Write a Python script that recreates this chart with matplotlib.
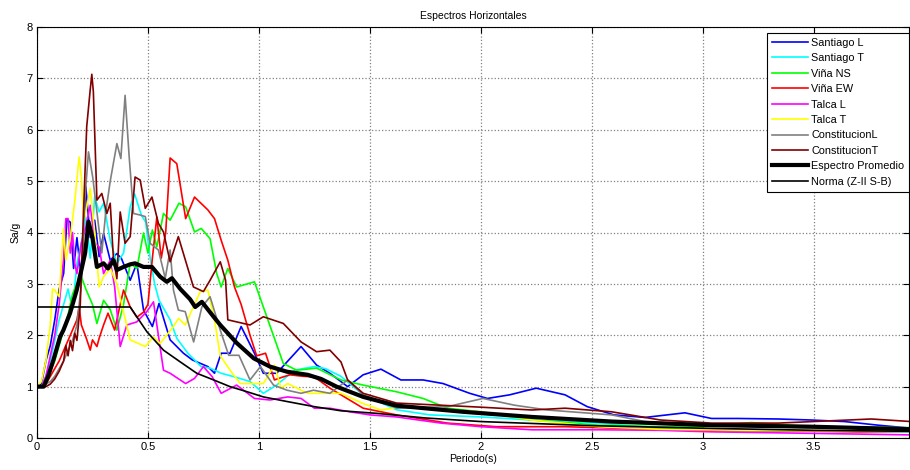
import matplotlib
matplotlib.use("Agg")
import matplotlib.pyplot as plt

plt.rcParams['font.family'] = ['Liberation Sans', 'DejaVu Sans']

# Santiago L
t_stgo_l = [0, 0.02, 0.04, 0.06, 0.08, 0.1, 0.12, 0.135, 0.15, 0.165, 0.18, 0.2, 0.22, 0.24, 0.26, 0.28,
            0.3, 0.33, 0.36, 0.38, 0.42, 0.45, 0.48, 0.52, 0.55, 0.6, 0.66, 0.7, 0.77, 0.8, 0.83, 0.87,
            0.92, 0.98, 1.02, 1.08, 1.19, 1.26, 1.32, 1.4, 1.47, 1.55, 1.64, 1.74, 1.83, 1.95, 2.03,
            2.13, 2.25, 2.38, 2.48, 2.6, 2.74, 2.92, 3.04, 3.16, 3.34, 3.49, 3.64, 3.79, 3.94]
sa_stgo_l = [1.0, 1.05, 1.5, 1.8, 2.3, 2.9, 3.2, 4.25, 4.2, 3.3, 3.9, 3.1, 4.89, 3.9, 4.24, 3.53,
             3.98, 3.46, 3.59, 3.5, 3.07, 3.4, 2.49, 2.17, 2.62, 1.91, 1.65, 1.52, 1.39, 1.26, 1.65, 1.65,
             2.17, 1.65, 1.26, 1.26, 1.78, 1.42, 1.26, 1.0, 1.23, 1.34, 1.13, 1.13, 1.06, 0.87, 0.77,
             0.84, 0.97, 0.84, 0.61, 0.45, 0.40, 0.49, 0.38, 0.38, 0.37, 0.35, 0.32, 0.25, 0.19]

# Santiago T
t_stgo_t = [0, 0.02, 0.04, 0.06, 0.08, 0.1, 0.12, 0.14, 0.16, 0.18, 0.2, 0.22, 0.24, 0.26, 0.28, 0.3,
            0.33, 0.36, 0.39, 0.42, 0.44, 0.47, 0.49, 0.51, 0.53, 0.55, 0.6, 0.63, 0.68, 0.74, 0.78,
            0.83, 0.89, 0.96, 1.02, 1.08, 1.16, 1.25, 1.3, 1.37, 1.47, 1.62, 1.77, 2.0, 2.23, 2.53,
            2.8, 3.0, 3.2, 3.5, 3.94]
sa_stgo_t = [1.0, 1.0, 1.2, 1.5, 1.9, 2.3, 2.6, 2.9, 2.5, 3.4, 3.8, 4.3, 3.5, 4.7, 4.4, 4.57,
             3.85, 3.4, 3.6, 4.5, 4.75, 4.34, 4.2, 3.5, 3.0, 2.68, 2.3, 1.94, 1.65, 1.39, 1.36,
             1.26, 1.19, 1.10, 0.87, 1.03, 1.32, 1.39, 1.35, 1.2, 0.84, 0.55, 0.45, 0.41, 0.35, 0.29,
             0.2, 0.15, 0.14, 0.13, 0.12]

# Viña NS
t_vina_ns = [0, 0.02, 0.04, 0.06, 0.08, 0.1, 0.12, 0.14, 0.16, 0.18, 0.2, 0.22, 0.25, 0.27, 0.3,
             0.33, 0.36, 0.39, 0.42, 0.45, 0.48, 0.5, 0.52, 0.54, 0.57, 0.6, 0.64, 0.67, 0.71, 0.74,
             0.78, 0.81, 0.83, 0.86, 0.9, 0.98, 1.03, 1.11, 1.17, 1.26, 1.37, 1.47, 1.62, 1.74, 1.85,
             2.0, 2.23, 2.53, 2.8, 3.0, 3.22, 3.5, 3.94]
sa_vina_ns = [0.97, 1.0, 1.1, 1.3, 1.5, 1.8, 2.1, 2.4, 2.8, 3.0, 3.14, 2.9, 2.6, 2.23, 2.68,
              2.5, 2.10, 2.6, 3.4, 3.3, 3.99, 3.6, 4.05, 3.72, 4.37, 4.24, 4.57, 4.5, 4.01, 4.08,
              3.88, 3.2, 2.94, 3.3, 2.94, 3.04, 2.43, 1.45, 1.32, 1.36, 1.13, 1.03, 0.90, 0.77, 0.58,
              0.51, 0.35, 0.25, 0.22, 0.22, 0.30, 0.22, 0.2]

# Viña EW
t_vina_ew = [0, 0.02, 0.04, 0.06, 0.08, 0.1, 0.12, 0.14, 0.16, 0.18, 0.19, 0.2, 0.22, 0.24, 0.25,
             0.27, 0.28, 0.3, 0.32, 0.35, 0.37, 0.39, 0.42, 0.45, 0.48, 0.5, 0.52, 0.54, 0.56, 0.58,
             0.6, 0.63, 0.67, 0.71, 0.77, 0.8, 0.83, 0.86, 0.89, 0.92, 0.96, 0.99, 1.03, 1.07, 1.11,
             1.14, 1.2, 1.25, 1.32, 1.37, 1.47, 1.62, 1.85, 2.07, 2.38, 2.7, 3.0, 3.4, 3.7, 3.94]
sa_vina_ew = [1.0, 1.0, 1.05, 1.2, 1.35, 1.5, 1.7, 1.9, 2.1, 2.3, 2.55, 2.2, 1.97, 1.71, 1.91,
              1.78, 1.94, 2.2, 2.43, 2.1, 2.5, 2.88, 2.55, 2.35, 2.45, 2.6, 3.5, 4.3, 3.5, 4.0,
              5.45, 5.34, 4.27, 4.69, 4.44, 4.27, 3.85, 3.46, 2.94, 2.6, 2.0, 1.6, 1.65, 1.13, 1.19,
              1.23, 1.2, 1.19, 0.97, 0.84, 0.58, 0.45, 0.29, 0.22, 0.22, 0.18, 0.15, 0.14, 0.12, 0.13]

# Talca L
t_talca_l = [0, 0.02, 0.04, 0.06, 0.08, 0.1, 0.12, 0.13, 0.14, 0.15, 0.16, 0.17, 0.18, 0.2, 0.22,
             0.24, 0.26, 0.28, 0.3, 0.33, 0.35, 0.375, 0.405, 0.45, 0.495, 0.525, 0.57, 0.6, 0.67,
             0.71, 0.75, 0.79, 0.83, 0.9, 0.98, 1.05, 1.13, 1.19, 1.25, 1.32, 1.41, 1.5, 1.62, 1.82,
             2.0, 2.23, 2.53, 2.8, 3.04, 3.5, 3.94]
sa_talca_l = [1.0, 1.0, 1.2, 1.6, 2.0, 2.6, 3.5, 4.27, 4.27, 3.6, 4.0, 3.4, 3.2, 3.8, 4.11,
              4.53, 3.8, 3.72, 3.2, 3.46, 2.94, 1.78, 2.2, 2.26, 2.46, 2.65, 1.32, 1.26, 1.06,
              1.16, 1.39, 1.19, 0.87, 1.03, 0.77, 0.74, 0.80, 0.77, 0.58, 0.58, 0.51, 0.45, 0.41, 0.29,
              0.22, 0.16, 0.16, 0.15, 0.12, 0.09, 0.06]

# Talca T
t_talca_t = [0, 0.02, 0.04, 0.06, 0.07, 0.08, 0.1, 0.12, 0.13, 0.15, 0.17, 0.19, 0.2, 0.21, 0.22,
             0.24, 0.26, 0.28, 0.3, 0.33, 0.36, 0.42, 0.488, 0.525, 0.555, 0.615, 0.638, 0.668,
             0.736, 0.77, 0.8, 0.826, 0.87, 0.916, 0.98, 1.02, 1.07, 1.1, 1.13, 1.19, 1.22, 1.37,
             1.47, 1.55, 1.65, 1.78, 2.0, 2.23, 2.53, 2.8, 3.2, 3.6, 3.94]
sa_talca_t = [1.0, 1.1, 1.5, 2.2, 2.9, 2.88, 2.75, 4.08, 3.46, 3.9, 4.6, 5.47, 5.08, 4.2, 4.4,
              4.86, 4.0, 2.94, 3.14, 3.3, 3.0, 1.91, 1.78, 1.97, 1.84, 2.17, 2.33, 2.2,
              2.85, 2.88, 2.30, 1.6, 1.32, 1.06, 1.06, 1.06, 1.42, 0.97, 1.06, 0.93, 0.87, 0.87,
              0.67, 0.545, 0.61, 0.56, 0.51, 0.35, 0.22, 0.17, 0.15, 0.14, 0.14]

# Constitucion L
t_const_l = [0, 0.02, 0.04, 0.06, 0.08, 0.1, 0.12, 0.14, 0.16, 0.18, 0.2, 0.215, 0.232, 0.251, 0.27,
             0.292, 0.31, 0.33, 0.36, 0.378, 0.397, 0.415, 0.435, 0.465, 0.488, 0.51, 0.547, 0.578,
             0.6, 0.615, 0.637, 0.668, 0.706, 0.743, 0.78, 0.826, 0.864, 0.91, 0.96, 1.007, 1.066,
             1.127, 1.19, 1.246, 1.32, 1.40, 1.47, 1.62, 1.85, 2.01, 2.15, 2.30, 2.59, 2.74, 3.0,
             3.5, 3.94]
sa_const_l = [1.0, 1.0, 1.05, 1.1, 1.2, 1.35, 1.5, 1.7, 1.9, 2.2, 3.0, 4.6, 5.57, 5.08, 4.4,
              3.6, 4.4, 5.0, 5.73, 5.44, 6.67, 5.5, 4.37, 4.34, 4.31, 3.79, 3.66, 3.11,
              3.66, 2.88, 2.49, 2.46, 1.87, 2.55, 2.75, 2.10, 1.61, 1.61, 1.13, 1.39, 1.03,
              0.93, 0.87, 0.93, 0.87, 1.13, 0.84, 0.58, 0.61, 0.77, 0.64, 0.545, 0.45, 0.32, 0.25,
              0.2, 0.2]

# Constitucion T
t_const_t = [0, 0.02, 0.04, 0.06, 0.08, 0.1, 0.12, 0.13, 0.14, 0.15, 0.16, 0.17, 0.18, 0.195, 0.21,
             0.224, 0.239, 0.247, 0.254, 0.27, 0.292, 0.315, 0.33, 0.344, 0.36, 0.375, 0.397, 0.42,
             0.442, 0.465, 0.488, 0.518, 0.547, 0.57, 0.6, 0.637, 0.705, 0.75, 0.78, 0.826, 0.85,
             0.86, 0.96, 1.02, 1.11, 1.19, 1.26, 1.32, 1.37, 1.40, 1.47, 1.62, 2.0, 2.23, 2.38,
             2.59, 2.81, 3.04, 3.34, 3.76, 3.94]
sa_const_t = [1.0, 1.0, 1.0, 1.05, 1.15, 1.3, 1.5, 1.8, 1.6, 1.9, 1.7, 2.04, 1.9, 2.6, 4.44,
              6.06, 6.74, 7.08, 6.74, 4.63, 4.76, 4.37, 4.57, 3.52, 3.1, 4.40, 3.79, 3.92,
              5.08, 5.02, 4.47, 4.69, 4.18, 4.01, 3.43, 3.92, 2.94, 2.85, 3.07, 3.43, 3.07,
              2.30, 2.2, 2.36, 2.23, 1.87, 1.68, 1.71, 1.48, 1.13, 0.87, 0.68, 0.6, 0.545, 0.58,
              0.51, 0.35, 0.29, 0.29, 0.37, 0.32]

# Espectro promedio
t_prom = [0, 0.03, 0.05, 0.074, 0.104, 0.119, 0.149, 0.179, 0.2, 0.217, 0.232, 0.25, 0.27, 0.3,
          0.32, 0.345, 0.36, 0.39, 0.42, 0.442, 0.48, 0.518, 0.555, 0.585, 0.608, 0.646, 0.69,
          0.713, 0.743, 0.796, 0.826, 0.9, 0.977, 1.05, 1.127, 1.22, 1.28, 1.35, 1.47, 1.62, 1.92,
          2.23, 2.59, 3.04, 3.49, 3.94]
sa_prom = [1.0, 1.0, 1.2, 1.52, 1.97, 2.1, 2.43, 2.88, 3.27, 3.6, 4.21, 3.9, 3.33, 3.40,
           3.3, 3.46, 3.27, 3.33, 3.38, 3.40, 3.33, 3.33, 3.14, 3.04, 3.11, 2.9, 2.7,
           2.55, 2.65, 2.36, 2.2, 1.85, 1.55, 1.39, 1.29, 1.23, 1.15, 1.0, 0.8, 0.63, 0.51,
           0.41, 0.32, 0.25, 0.22, 0.17]

# Norma (Z-II S-B)
t_norma = [0, 0.42, 0.495, 0.57, 0.646, 0.72, 0.796, 0.87, 0.947, 1.02, 1.127, 1.25, 1.37, 1.53,
           1.75, 2.0, 2.5, 3.0, 3.5, 3.94]
sa_norma = [2.55, 2.55, 2.07, 1.71, 1.48, 1.26, 1.13, 1.0, 0.90, 0.80, 0.71, 0.61, 0.53, 0.48,
            0.39, 0.32, 0.24, 0.19, 0.15, 0.13]

series = [
    (t_stgo_l, sa_stgo_l, 'Santiago L', '#0000ff'),
    (t_stgo_t, sa_stgo_t, 'Santiago T', '#00ffff'),
    (t_vina_ns, sa_vina_ns, 'Viña NS', '#00ff00'),
    (t_vina_ew, sa_vina_ew, 'Viña EW', '#ff0000'),
    (t_talca_l, sa_talca_l, 'Talca L', '#ff00ff'),
    (t_talca_t, sa_talca_t, 'Talca T', '#ffff00'),
    (t_const_l, sa_const_l, 'ConstitucionL', '#808080'),
    (t_const_t, sa_const_t, 'ConstitucionT', '#800000'),
]

fig = plt.figure(figsize=(9.1, 4.7), dpi=100)
ax = fig.add_axes([37 / 910, 32 / 470, 872 / 910, 411 / 470])

for t, sa, name, col in series:
    ax.plot(t, sa, color=col, lw=1.2, label=name)
ax.plot(t_prom, sa_prom, color='k', lw=3.0, label='Espectro Promedio')
ax.plot(t_norma, sa_norma, color='k', lw=1.2, label='Norma (Z-II S-B)')

ax.set_xlim(0, 3.93)
ax.set_ylim(0, 8)
ax.set_xticks([0, 0.5, 1, 1.5, 2, 2.5, 3, 3.5])
ax.set_xticklabels(['0', '0.5', '1', '1.5', '2', '2.5', '3', '3.5'])
ax.set_yticks(range(9))
ax.grid(True, color='#808080', linestyle=':', linewidth=0.9)
ax.tick_params(direction='in', length=4, labelsize=8, top=True, right=True, pad=3)
for sp in ax.spines.values():
    sp.set_linewidth(0.8)

ax.set_title('Espectros Horizontales', fontsize=7.5, pad=6)
ax.set_xlabel('Periodo(s)', fontsize=7.5, labelpad=1)
ax.set_ylabel('Sa/g', fontsize=7.5, labelpad=4)

leg = ax.legend(loc='upper right', bbox_to_anchor=(1.0, 1 - 6 / 411), borderaxespad=0,
                fontsize=7.8, handlelength=3.3, labelspacing=0.5, fancybox=False,
                framealpha=1, edgecolor='k', borderpad=0.45, handletextpad=0.3)
leg.get_frame().set_linewidth(0.8)

fig.savefig('out.png', dpi=100)
